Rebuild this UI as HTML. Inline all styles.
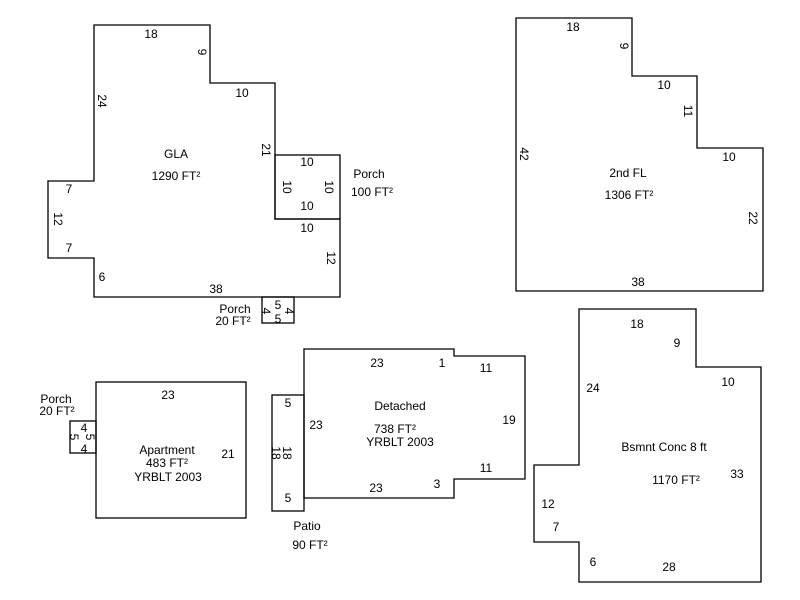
<!DOCTYPE html>
<html><head><style>body{margin:0;background:#fff}svg{display:block}text{font-family:"Liberation Sans",Arial,sans-serif;font-size:12px;fill:#000}</style></head><body>
<svg width="800" height="600" viewBox="0 0 800 600" xmlns="http://www.w3.org/2000/svg">
<g fill="none" stroke="#000" stroke-width="1.3">
<polygon points="94,25 210,25 210,83 275,83 275,219 340,219 340,297 94,297 94,258 48,258 48,181 94,181"/>
<rect x="275" y="155" width="65" height="64"/>
<rect x="262" y="297" width="32" height="26"/>
<polygon points="516,18 632,18 632,76 697,76 697,148 763,148 763,291 516,291"/>
<rect x="96" y="382" width="150" height="136"/>
<rect x="70" y="421" width="26" height="32"/>
<rect x="272" y="395" width="32" height="116"/>
<polygon points="304,349 454,349 454,356 525,356 525,479 454,479 454,498 304,498"/>
<polygon points="579,309 696,309 696,367 761,367 761,582 579,582 579,542 534,542 534,465 579,465"/>
</g>
<g text-anchor="middle">
<text x="151" y="38">18</text>
<text x="242" y="97">10</text>
<text x="307" y="166">10</text>
<text x="307" y="210">10</text>
<text x="307" y="232">10</text>
<text x="69" y="193">7</text>
<text x="69" y="252">7</text>
<text x="102" y="281">6</text>
<text x="216" y="293">38</text>
<text x="176" y="158">GLA</text>
<text x="176" y="180">1290 FT²</text>
<text x="369" y="178">Porch</text>
<text x="372" y="196">100 FT²</text>
<text x="235" y="313">Porch</text>
<text x="233" y="325">20 FT²</text>
<text x="278" y="309">5</text>
<text x="278" y="323">5</text>
<text x="573" y="31">18</text>
<text x="664" y="89">10</text>
<text x="729" y="161">10</text>
<text x="628" y="177">2nd FL</text>
<text x="629" y="199">1306 FT²</text>
<text x="638" y="286">38</text>
<text x="56" y="403">Porch</text>
<text x="57" y="415">20 FT²</text>
<text x="84" y="432">4</text>
<text x="84" y="453">4</text>
<text x="168" y="399">23</text>
<text x="167" y="454">Apartment</text>
<text x="167" y="467">483 FT²</text>
<text x="168" y="481">YRBLT 2003</text>
<text x="228" y="458">21</text>
<text x="288" y="407">5</text>
<text x="288" y="502">5</text>
<text x="316" y="429">23</text>
<text x="377" y="367">23</text>
<text x="442" y="367">1</text>
<text x="486" y="372">11</text>
<text x="400" y="410">Detached</text>
<text x="395" y="433">738 FT²</text>
<text x="400" y="446">YRBLT 2003</text>
<text x="509" y="424">19</text>
<text x="486" y="472">11</text>
<text x="437" y="488">3</text>
<text x="376" y="492">23</text>
<text x="307" y="530">Patio</text>
<text x="310" y="549">90 FT²</text>
<text x="637" y="328">18</text>
<text x="677" y="347">9</text>
<text x="593" y="392">24</text>
<text x="728" y="386">10</text>
<text x="664" y="451">Bsmnt Conc 8 ft</text>
<text x="676" y="484">1170 FT²</text>
<text x="737" y="478">33</text>
<text x="548" y="508">12</text>
<text x="556" y="531">7</text>
<text x="593" y="566">6</text>
<text x="669" y="571">28</text>
</g>
<g text-anchor="middle">
<text transform="translate(98,101) rotate(90)">24</text>
<text transform="translate(198,52) rotate(90)">9</text>
<text transform="translate(262,150) rotate(90)">21</text>
<text transform="translate(54,219) rotate(90)">12</text>
<text transform="translate(327,258) rotate(90)">12</text>
<text transform="translate(283,187) rotate(90)">10</text>
<text transform="translate(325,187) rotate(90)">10</text>
<text transform="translate(262,311) rotate(90)">4</text>
<text transform="translate(285,311) rotate(90)">4</text>
<text transform="translate(520,154) rotate(90)">42</text>
<text transform="translate(620,46) rotate(90)">9</text>
<text transform="translate(684,111) rotate(90)">11</text>
<text transform="translate(749,218) rotate(90)">22</text>
<text transform="translate(70,437) rotate(90)">5</text>
<text transform="translate(86,437) rotate(90)">5</text>
<text transform="translate(272,453) rotate(90)">18</text>
<text transform="translate(283,453) rotate(90)">18</text>
</g>
</svg>
</body></html>
